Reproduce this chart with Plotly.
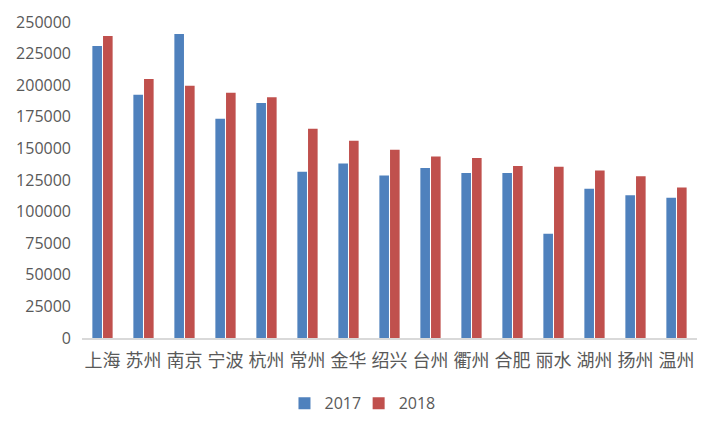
import plotly.graph_objects as go

cities = ["上海", "苏州", "南京", "宁波", "杭州", "常州", "金华", "绍兴", "台州", "衢州", "合肥", "丽水", "湖州", "扬州", "温州"]
v2017 = [231000, 192500, 240500, 173500, 186000, 131500, 138000, 128500, 134500, 130500, 130500, 82500, 118000, 113000, 111000]
v2018 = [239000, 205000, 199500, 194000, 190500, 165500, 156000, 149000, 143500, 142500, 136000, 135500, 132500, 128000, 119000]
yticks = [0, 25000, 50000, 75000, 100000, 125000, 150000, 175000, 200000, 225000, 250000]

fig = go.Figure()
fig.add_trace(go.Bar(name="2017", x=cities, y=v2017, marker=dict(color="#4F81BD", line=dict(width=0)),
                     legend="legend"))
fig.add_trace(go.Bar(name="2018", x=cities, y=v2018, marker=dict(color="#C0504D", line=dict(width=0)),
                     legend="legend2"))

leg_common = dict(orientation="h", xref="container", xanchor="left",
                  yref="container", y=0.085, yanchor="middle",
                  font=dict(size=16, color="#595959"), itemwidth=30, bgcolor="rgba(0,0,0,0)")

fig.update_layout(
    width=720, height=432,
    margin=dict(l=74, r=31, t=14, b=102, autoexpand=False),
    paper_bgcolor="white", plot_bgcolor="white",
    barmode="group", bargap=0.48, bargroupgap=0.1,
    font=dict(family="Open Sans, Liberation Sans, sans-serif", color="#595959"),
    showlegend=True,
    legend=dict(x=0.384, **leg_common),
    legend2=dict(x=0.487, **leg_common),
    xaxis=dict(showgrid=False, showline=True, linecolor="#D9D9D9", linewidth=1.5,
               ticks="", automargin=False, ticklabelstandoff=6,
               tickfont=dict(size=18, family="Noto Sans CJK SC", color="#595959")),
    yaxis=dict(range=[0, 250000], tickvals=yticks, ticktext=[str(t) for t in yticks],
               showgrid=False, showline=False, zeroline=False, ticks="", automargin=False,
               tickfont=dict(size=16, color="#595959"), ticklabelstandoff=10),
)

fig.write_html("out.html")
